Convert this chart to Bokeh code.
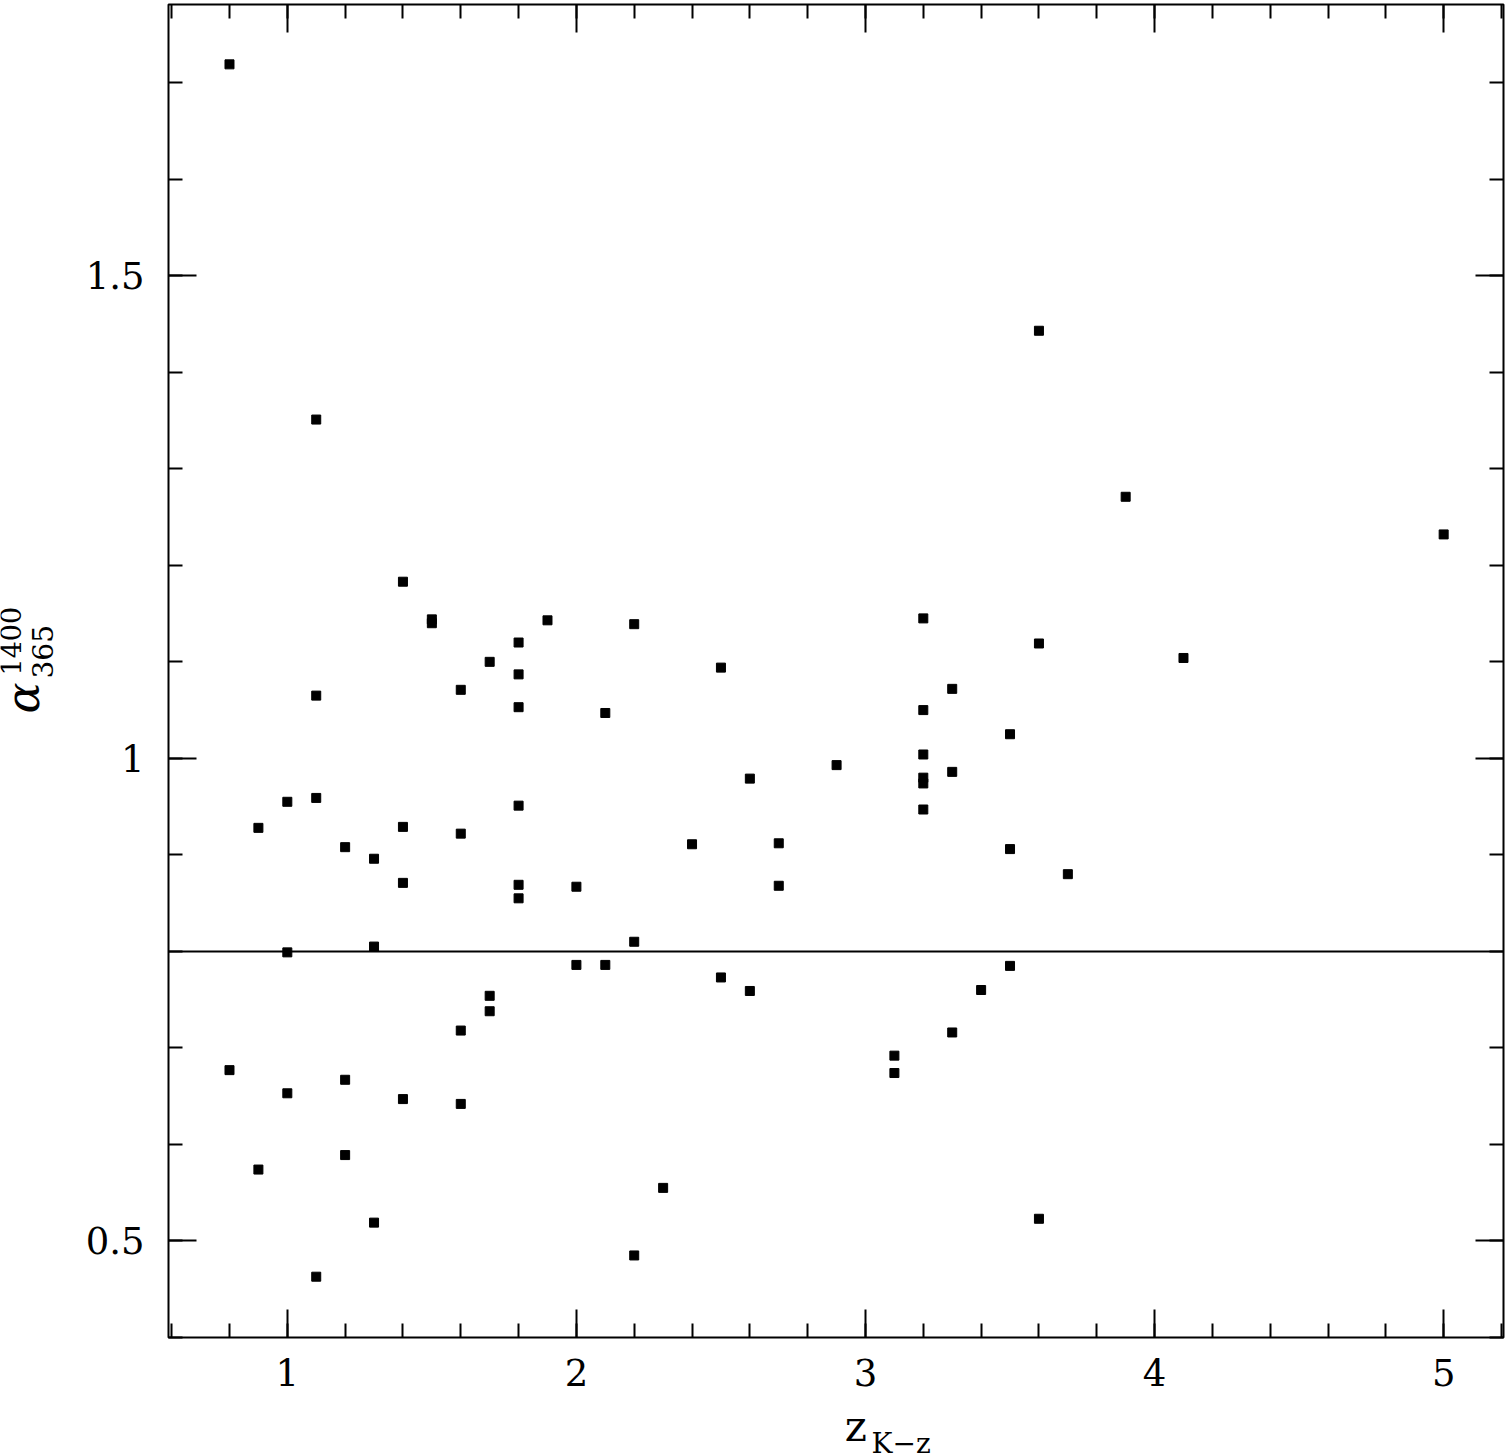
from math import pi
from bokeh.plotting import figure
from bokeh.layouts import row, column
from bokeh.core.properties import value
from bokeh.models import (Range1d, LinearAxis, Span, SingleIntervalTicker,
                          NumeralTickFormatter, CustomLabelingPolicy)
from bokeh.embed import file_html
from bokeh.resources import INLINE

# ---- data ----
z_kz = [0.8, 1.1, 3.6, 3.9, 5.0, 1.4, 1.5, 1.5, 1.9, 2.2,
        3.2, 1.8, 3.6, 1.7, 2.5, 4.1, 1.8, 1.6, 3.3, 1.1,
        1.8, 2.1, 3.2, 3.5, 3.2, 2.9, 2.6, 3.2, 3.2, 3.3,
        3.2, 1.0, 1.1, 1.8, 0.9, 1.4, 1.6, 1.2, 1.3, 2.4,
        2.7, 3.5, 3.7, 1.4, 1.8, 2.0, 2.7, 1.8, 2.2, 1.3,
        1.0, 2.0, 2.1, 3.5, 2.5, 2.6, 3.4, 1.7, 1.7, 1.6,
        3.3, 3.1, 3.1, 0.8, 1.2, 1.0, 1.4, 1.6, 1.2, 0.9,
        2.3, 3.6, 1.3, 2.2, 1.1]
alpha = [1.719, 1.351, 1.443, 1.271, 1.232, 1.183, 1.144, 1.140, 1.143, 1.139,
         1.145, 1.120, 1.119, 1.100, 1.094, 1.104, 1.087, 1.071, 1.072, 1.065,
         1.053, 1.047, 1.050, 1.025, 1.004, 0.993, 0.979, 0.980, 0.974, 0.986,
         0.947, 0.955, 0.959, 0.951, 0.928, 0.929, 0.922, 0.908, 0.896, 0.911,
         0.912, 0.906, 0.880, 0.871, 0.869, 0.867, 0.868, 0.855, 0.810, 0.805,
         0.799, 0.786, 0.786, 0.785, 0.773, 0.759, 0.760, 0.754, 0.738, 0.718,
         0.716, 0.692, 0.674, 0.677, 0.667, 0.653, 0.647, 0.642, 0.589, 0.574,
         0.555, 0.523, 0.519, 0.485, 0.463]
reference_level = 0.8

# axis title pieces
y_title_parts = ["α", "1400", "365"]
x_title_parts = ["z", "K−z"]

FONT = "DejaVu Serif"


def blank_fig(w, h, xr, yr):
    f = figure(width=w, height=h, x_range=Range1d(*xr), y_range=Range1d(*yr),
               output_backend="svg", toolbar_location=None,
               x_axis_type=None, y_axis_type=None,
               min_border=0, min_border_left=0, min_border_right=0,
               min_border_top=0, min_border_bottom=0)
    f.grid.visible = False
    f.outline_line_color = None
    f.background_fill_color = "white"
    f.border_fill_color = "white"
    return f


# ---- main plot ----
p = figure(width=1447, height=1400,
           x_range=Range1d(0.589, 5.207), y_range=Range1d(0.4, 1.781),
           output_backend="svg", toolbar_location=None,
           x_axis_type=None, y_axis_type=None,
           min_border_left=108, min_border_right=2,
           min_border_top=1, min_border_bottom=63)
p.grid.visible = False
p.outline_line_color = "black"
p.outline_line_width = 2
p.background_fill_color = "white"
p.border_fill_color = "white"


def style_axis(ax, labels=True):
    ax.axis_line_color = None
    ax.major_tick_in = 28
    ax.major_tick_out = 0
    ax.minor_tick_in = 14
    ax.minor_tick_out = 0
    ax.major_tick_line_width = 2
    ax.minor_tick_line_width = 2
    ax.major_tick_line_color = "black"
    ax.minor_tick_line_color = "black"
    if labels:
        ax.major_label_text_font = FONT
        ax.major_label_text_font_size = "37px"
        ax.major_label_text_color = "black"
    else:
        ax.major_label_policy = CustomLabelingPolicy(code="return new Set()")
        ax.major_label_text_font_size = "1px"
        ax.major_label_standoff = 0


xfmt = NumeralTickFormatter(format="0.[0]")
yfmt = NumeralTickFormatter(format="0.[0]")

xb = LinearAxis(ticker=SingleIntervalTicker(interval=1, num_minor_ticks=5), formatter=xfmt)
style_axis(xb)
xb.major_label_standoff = 21
p.add_layout(xb, "below")

xt = LinearAxis(ticker=SingleIntervalTicker(interval=1, num_minor_ticks=5), formatter=xfmt)
style_axis(xt, labels=False)
p.add_layout(xt, "above")

yl = LinearAxis(ticker=SingleIntervalTicker(interval=0.5, num_minor_ticks=5), formatter=yfmt)
style_axis(yl)
yl.major_label_standoff = 24
p.add_layout(yl, "left")

yr = LinearAxis(ticker=SingleIntervalTicker(interval=0.5, num_minor_ticks=5), formatter=yfmt)
style_axis(yr, labels=False)
p.add_layout(yr, "right")

p.scatter(z_kz, alpha, marker="square", size=9, fill_color="black", line_color="black")

p.add_layout(Span(location=reference_level, dimension="width",
                  line_color="black", line_width=2))

# ---- y-axis title strip (pixel coordinates, origin bottom-left) ----
ylab = blank_fig(60, 1456, (0, 60), (0, 1456))
ylab.text(x=[22], y=[743], text=[y_title_parts[0]], angle=pi / 2,
          text_font=value(FONT), text_font_style=value("italic"),
          text_font_size=value("46px"), text_align="left",
          text_baseline="alphabetic", text_color="black")
ylab.text(x=[10], y=[781], text=[y_title_parts[1]], angle=pi / 2,
          text_font=value(FONT), text_font_size=value("27px"), text_align="left",
          text_baseline="alphabetic", text_color="black")
ylab.text(x=[42], y=[778], text=[y_title_parts[2]], angle=pi / 2,
          text_font=value(FONT), text_font_size=value("28px"), text_align="left",
          text_baseline="alphabetic", text_color="black")

# ---- x-axis title strip ----
xlab = blank_fig(1447, 56, (60, 1507), (0, 56))
xlab.text(x=[793], y=[30.5], text=[x_title_parts[0]],
          text_font=value(FONT), text_font_size=value("42px"), text_align="left",
          text_baseline="alphabetic", text_color="black")
xlab.text(x=[822], y=[12.7], text=[x_title_parts[1]],
          text_font=value(FONT), text_font_size=value("28px"), text_align="left",
          text_baseline="alphabetic", text_color="black")

layout = row(ylab, column(p, xlab, spacing=0), spacing=0)

open("out.html", "w").write(file_html(layout, INLINE))
